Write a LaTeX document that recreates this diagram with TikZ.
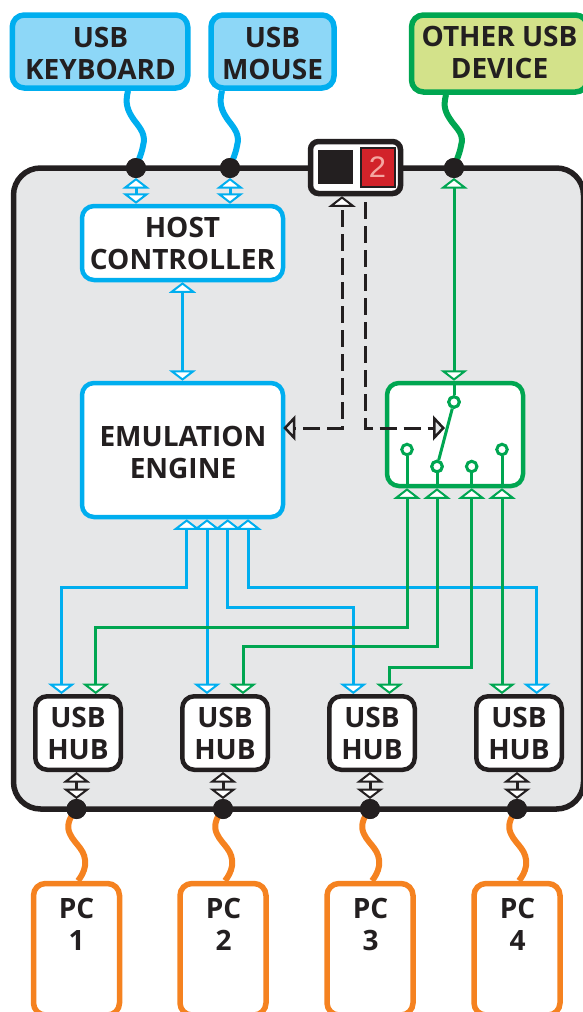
\documentclass[tikz,border=0pt]{standalone}
\usepackage{fontspec}
\setmainfont{Open Sans}
\newfontfamily\segfont{Liberation Mono}
\usetikzlibrary{arrows.meta,calc}
\definecolor{kblack}{HTML}{231F20}
\definecolor{kblue}{HTML}{00AEEF}
\definecolor{kbluef}{HTML}{8DD7F7}
\definecolor{kgreen}{HTML}{00A651}
\definecolor{kgreenf}{HTML}{D3E28A}
\definecolor{korange}{HTML}{F58220}
\definecolor{kgrey}{HTML}{E6E7E8}
\definecolor{kred}{HTML}{D2232A}
\definecolor{kpink}{HTML}{F4A6A0}
\tikzset{
 x=1pt,y=-1pt,
 lbl/.style={font=\fontsize{28}{32}\selectfont\bfseries,text=kblack,align=center,inner sep=0pt},
 devbox/.style={rounded corners=12pt,line width=5.5pt,lbl},
 inbox/.style={rounded corners=12pt,line width=4.5pt,fill=white,lbl},
 pcbox/.style={draw=korange,fill=white,rounded corners=12pt,line width=5.5pt,minimum width=86,minimum height=131.5,inner sep=0pt},
 hubbox/.style={inbox,draw=kblack,minimum width=85.5,minimum height=73.5},
 dot/.style={circle,fill=kblack,minimum size=20,inner sep=0pt,outer sep=0pt},
 pin/.style={circle,draw=kgreen,fill=white,line width=3pt,minimum size=10.5,inner sep=0pt},
 opentip/.tip={Triangle[width=27pt,length=10.5pt,line width=2pt,fill=white]},
 greytip/.tip={Triangle[width=25pt,length=12pt,line width=2.5pt,fill=kgrey]},
 conn/.style={line width=3pt,{opentip}-{opentip}},
 stem/.style={line width=3pt,draw=kgreen},
 wavy/.style={line width=6pt},
 dashline/.style={line width=3pt,dash pattern=on 17pt off 7pt,draw=kblack},
}
\begin{document}
\begin{tikzpicture}
\useasboundingbox (0,0) rectangle (582,1012);
% enclosure
\node[draw=kblack,fill=kgrey,line width=5.5pt,rounded corners=27pt,minimum width=570,minimum height=641,inner sep=0pt] (case) at (298.5,488.5) {};
% devices
\node[devbox,draw=kblue,fill=kbluef,minimum width=175.5,minimum height=73] (kbd) at (100,51.5) {};
\node[lbl] (kbdt) at (100.5,53) {USB\\KEYBOARD};
\node[devbox,draw=kblue,fill=kbluef,minimum width=123,minimum height=73] (mouse) at (272.5,51.5) {};
\node[lbl] (mouset) at (272.5,53) {USB\\MOUSE};
\node[devbox,draw=kgreen,fill=kgreenf,minimum width=176,minimum height=77] (other) at (499.5,53.5) {};
\node[lbl] (othert) at (499.5,52.5) {OTHER USB\\DEVICE};
% PCs
\node[pcbox] (pc1) at (76.5,949.25) {};
\node[pcbox] (pc2) at (223,949.25) {};
\node[pcbox] (pc3) at (370,949.25) {};
\node[pcbox] (pc4) at (517,949.25) {};
\node[lbl] (pc1t) at (76.5,924) {PC\\1};
\node[lbl] (pc2t) at (223.5,924) {PC\\2};
\node[lbl] (pc3t) at (370.5,924) {PC\\3};
\node[lbl] (pc4t) at (517.5,924) {PC\\4};
% cable anchor points
\coordinate (wk) at (128,0);
\coordinate (wm) at (222,0);
\coordinate (wo) at (446,0);
\coordinate (wp) at (78,0);
\coordinate (wq) at (225,0);
\coordinate (wr) at (372,0);
\coordinate (ws) at (519,0);
% dots (nodes first, drawn on top afterwards)
\path node[dot] (d1) at (136,168) {} node[dot] (d2) at (230,168) {} node[dot] (d3) at (454,168) {}
 node[dot] (b1) at (76.5,809) {} node[dot] (b2) at (223,809) {} node[dot] (b3) at (370,809) {} node[dot] (b4) at (517,809) {};
% wavy cables
\draw[wavy,draw=kblue] (kbd.south -| wk) .. controls (125,103) and (127,110) .. (134,120) .. controls (141,129) and (146,135) .. (143,146) .. controls (142,152) and (140,156) .. (d1.center);
\draw[wavy,draw=kblue] (mouse.south -| wm) .. controls (219,103) and (221,110) .. (228,120) .. controls (235,129) and (240,135) .. (237,146) .. controls (236,152) and (234,156) .. (d2.center);
\draw[wavy,draw=kgreen] (other.south -| wo) .. controls (443,107) and (445,112) .. (452,122) .. controls (459,131) and (464,135) .. (461,146) .. controls (460,152) and (458,156) .. (d3.center);
\draw[wavy,draw=korange] (b1.center) .. controls (69,818) and (66,826) .. (70,834) .. controls (75,845) and (87,850) .. (85,866) .. controls (84,872) and (81,877) .. (pc1.north -| wp);
\draw[wavy,draw=korange] (b2.center) .. controls (216,818) and (213,826) .. (217,834) .. controls (222,845) and (234,850) .. (232,866) .. controls (231,872) and (228,877) .. (pc2.north -| wq);
\draw[wavy,draw=korange] (b3.center) .. controls (363,818) and (360,826) .. (364,834) .. controls (369,845) and (381,850) .. (379,866) .. controls (378,872) and (375,877) .. (pc3.north -| wr);
\draw[wavy,draw=korange] (b4.center) .. controls (510,818) and (507,826) .. (511,834) .. controls (516,845) and (528,850) .. (526,866) .. controls (525,872) and (522,877) .. (pc4.north -| ws);
\node[dot] at (d1) {}; \node[dot] at (d2) {}; \node[dot] at (d3) {};
\node[dot] at (b1) {}; \node[dot] at (b2) {}; \node[dot] at (b3) {}; \node[dot] at (b4) {};
% inner blocks
\node[inbox,draw=kblue,minimum width=201,minimum height=74] (host) at (182.5,243) {HOST\\CONTROLLER};
\node[inbox,draw=kblue,minimum width=201,minimum height=134] (emu) at (182.5,450) {};
\node[lbl] (emut) at (183,452.5) {EMULATION\\ENGINE};
\node[rounded corners=12pt,line width=4.5pt,fill=white,draw=kgreen,minimum width=136,minimum height=103,inner sep=0pt] (sw) at (455,434.5) {};
\node[hubbox] (h1) at (78,733) {USB\\HUB};
\node[hubbox] (h2) at (225,733) {USB\\HUB};
\node[hubbox] (h3) at (372,733) {USB\\HUB};
\node[hubbox] (h4) at (519,733) {USB\\HUB};
% display
\node[draw=kblack,fill=white,rounded corners=8pt,line width=5.5pt,minimum width=90,minimum height=52,inner sep=0pt] (disp) at (355.5,167.5) {};
\node[fill=kblack,minimum width=35,minimum height=34,inner sep=0pt] (seg1) at (335.5,167) {};
\node[fill=kred,draw=kblack,line width=2pt,minimum width=34,minimum height=39,inner sep=0pt,font=\fontsize{31}{31}\segfont,text=kpink] (seg2) at (377.5,167) {2};
% switch pins
\node[pin] (p0) at (454,402) {};
\node[pin] (p1) at (407,449.5) {};
\node[pin] (p2) at (437,466.5) {};
\node[pin] (p3) at (471.7,466.5) {};
\node[pin] (p4) at (502,449.5) {};
% short double arrows
\draw[conn,draw=kblue] (d1.south) -- (d1.south |- host.north);
\draw[conn,draw=kblue] (d2.south) -- (d2.south |- host.north);
\draw[conn,draw=kblack] (h1.south -| b1) -- (b1.north);
\draw[conn,draw=kblack] (h2.south -| b2) -- (b2.north);
\draw[conn,draw=kblack] (h3.south -| b3) -- (b3.north);
\draw[conn,draw=kblack] (h4.south -| b4) -- (b4.north);
\draw[conn,draw=kblue] (host.south) -- (emu.north);
% blue routes
\coordinate (e1) at (186.7,0); \coordinate (e2) at (207,0); \coordinate (e3) at (227.7,0); \coordinate (e4) at (248,0);
\coordinate (ua) at (61.5,0); \coordinate (ub) at (207,0); \coordinate (uc) at (353.3,0); \coordinate (ud) at (536.7,0);
\coordinate (va) at (95.7,0); \coordinate (vb) at (243,0); \coordinate (vc) at (389.5,0); \coordinate (vd) at (502,0);
\coordinate (r587) at (0,587); \coordinate (r607) at (0,607.5); \coordinate (r627) at (0,627); \coordinate (r647) at (0,646.5); \coordinate (r667) at (0,667);
\draw[conn,draw=kblue,line join=miter] (e1 |- emu.south) -- (e1 |- r587) -| (ua |- h1.north);
\draw[conn,draw=kblue] (e2 |- emu.south) -- (ub |- h2.north);
\draw[conn,draw=kblue,line join=miter] (e3 |- emu.south) -- (e3 |- r607) -| (uc |- h3.north);
\draw[conn,draw=kblue,line join=miter] (e4 |- emu.south) -- (e4 |- r587) -| (ud |- h4.north);
% green routes
\draw[conn,draw=kgreen,line join=miter] (p1 |- sw.south) -- (p1 |- r627) -| (va |- h1.north);
\draw[conn,draw=kgreen,line join=miter] (p2 |- sw.south) -- (p2 |- r647) -| (vb |- h2.north);
\draw[conn,draw=kgreen,line join=miter] (p3 |- sw.south) -- (p3 |- r667) -| (vc |- h3.north);
\draw[conn,draw=kgreen] (p4 |- sw.south) -- (vd |- h4.north);
\draw[conn,draw=kgreen] (d3.south) -- (d3.south |- sw.north);
% switch internals
\draw[stem] (p0.north) -- (p0 |- sw.north);
\draw[stem] (p1.south) -- (p1 |- sw.south);
\draw[stem] (p2.south) -- (p2 |- sw.south);
\draw[stem] (p3.south) -- (p3 |- sw.south);
\draw[stem] (p4.south) -- (p4 |- sw.south);
\draw[stem] (p0) -- (p2);
\node[pin] at (p0) {}; \node[pin] at (p2) {};
% dashed control lines
\coordinate (da) at (342,0); \coordinate (db) at (365.7,202); \coordinate (dbe) at (445,428);
\draw[dashline,dash phase=20pt,line join=miter,{opentip}-{greytip}] (da |- disp.south) |- ([xshift=-2pt]emu.east |- dbe);
\draw[dashline,line join=miter,-{greytip}] (db) |- (dbe);
\end{tikzpicture}
\end{document}
